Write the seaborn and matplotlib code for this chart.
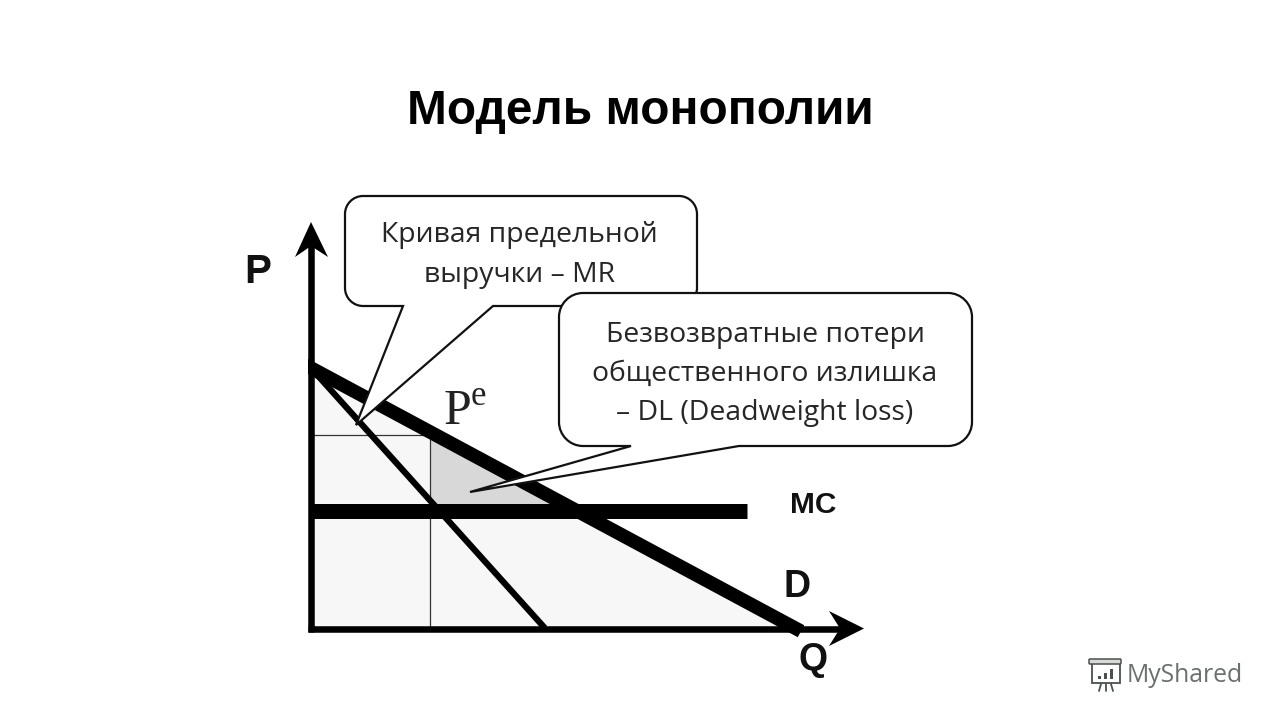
import matplotlib
matplotlib.use("Agg")
import matplotlib.pyplot as plt
import seaborn as sns
import pandas as pd
from matplotlib.path import Path
from matplotlib.patches import PathPatch, Polygon, Rectangle, FancyBboxPatch

sns.set_theme(style="white")
plt.rcParams['font.family'] = ['Liberation Sans', 'DejaVu Sans']

# ---- economic curves (relative units: demand runs 100 -> 0)
demand_q = [0, 100]
demand_p = [100, 0]
mr_q = [0, 48.3]
mr_p = [100, 0]
mc_q = [0, 90]
mc_p = [45.1, 45.1]
q_monopoly = 24.6
p_monopoly = 74.2

title_text = "Модель монополии"
callout_mr = "Кривая предельной\nвыручки – MR"
callout_dl = "Безвозвратные потери\nобщественного излишка\n– DL (Deadweight loss)"

W, H = 1280, 720
fig = plt.figure(figsize=(12.8, 7.2), dpi=100, facecolor="white")

# pixel helpers for layout only
def rect(l, t, r, b):
    return [l / W, 1 - b / H, (r - l) / W, (b - t) / H]

ax = fig.add_axes(rect(311, 368, 795, 628))
ax.set_xlim(0, 100)
ax.set_ylim(0, 100)
ax.axis("off")

# shaded regions
ax.fill_between(demand_q, demand_p, 0, color="#f7f7f7", lw=0, zorder=1)
dl_q = [q_monopoly, 100 - mc_p[0]]
ax.fill_between(dl_q, [100 - q_monopoly, mc_p[0]], mc_p[0], color="#d8d8d8", lw=0, zorder=2)

# thin guide lines
ax.plot([0, q_monopoly], [p_monopoly, p_monopoly], color="#333333", lw=0.9, zorder=3, clip_on=False)
ax.plot([q_monopoly, q_monopoly], [0, 100 - q_monopoly], color="#333333", lw=0.9, zorder=3, clip_on=False)

def curve(q, p, lw, z, cap="butt"):
    df = pd.DataFrame({"Q": q, "P": p})
    sns.lineplot(data=df, x="Q", y="P", ax=ax, color="black", lw=lw, zorder=z,
                 solid_capstyle=cap, clip_on=False, legend=False, errorbar=None)

curve(mr_q, mr_p, 4.5, 4)
curve(demand_q, demand_p, 9.8, 5, cap="projecting")
curve(mc_q, mc_p, 10.8, 6)
ax.set_xlabel("")
ax.set_ylabel("")

# overlay in pixel coordinates for annotation shapes
ov = fig.add_axes([0, 0, 1, 1], facecolor="none")
ov.set_xlim(0, W)
ov.set_ylim(H, 0)
ov.axis("off")

# white patch hides the projecting cap of the demand line left of the P axis
ov.add_patch(Rectangle((296, 350), 12, 40, fc="white", ec="none", zorder=6))

# axes with arrow heads
ov.plot([311, 311], [632, 240], color="black", lw=4.7, solid_capstyle="butt", zorder=7)
ov.plot([308, 845], [628.5, 628.5], color="black", lw=4.7, solid_capstyle="butt", zorder=7)
ov.add_patch(Polygon([(311, 222), (328, 257), (311, 246), (295, 257)], closed=True, fc="black", ec="none", zorder=8))
ov.add_patch(Polygon([(864, 628.5), (829, 611), (840, 628.5), (829, 646)], closed=True, fc="black", ec="none", zorder=8))

def callout(l, t, r, b, rad, tail_a, tip, tail_b, z):
    k = 0.45
    v = [
        (l + rad, t), (r - rad, t),
        (r - rad * k, t), (r, t + rad * k), (r, t + rad),
        (r, b - rad),
        (r, b - rad * k), (r - rad * k, b), (r - rad, b),
        (tail_b, b), tip, (tail_a, b),
        (l + rad, b),
        (l + rad * k, b), (l, b - rad * k), (l, b - rad),
        (l, t + rad),
        (l, t + rad * k), (l + rad * k, t), (l + rad, t),
        (l + rad, t),
    ]
    c = [Path.MOVETO, Path.LINETO,
         Path.CURVE4, Path.CURVE4, Path.CURVE4,
         Path.LINETO,
         Path.CURVE4, Path.CURVE4, Path.CURVE4,
         Path.LINETO, Path.LINETO, Path.LINETO,
         Path.LINETO,
         Path.CURVE4, Path.CURVE4, Path.CURVE4,
         Path.LINETO,
         Path.CURVE4, Path.CURVE4, Path.CURVE4,
         Path.CLOSEPOLY]
    ov.add_patch(PathPatch(Path(v, c), fc="white", ec="#111111", lw=1.6, zorder=z, joinstyle="miter"))

callout(345, 196, 697, 306, 18, 403, (356, 425), 493, 9)
callout(559, 293, 972, 446, 24, 631, (470, 492), 739, 10)

ov.text(519, 255, callout_mr, family="Open Sans", fontsize=20.4, color="#262626",
        ha="center", va="center", linespacing=1.53, zorder=11)
ov.text(765, 374, callout_dl, family="Open Sans", fontsize=20.4, color="#262626",
        ha="center", va="center", linespacing=1.52, zorder=11)

ov.text(640, 111, title_text, fontsize=34.4, fontweight="bold", color="black", ha="center", va="center", zorder=12)
ov.text(258, 272, "P", fontsize=29, fontweight="bold", color="#111111", ha="center", va="center", zorder=12)
ov.text(813, 505, "MC", fontsize=21.5, fontweight="bold", color="#111111", ha="center", va="center", zorder=12)
ov.text(797, 587, "D", fontsize=27, fontweight="bold", color="#111111", ha="center", va="center", zorder=12)
ov.text(813, 660, "Q", fontsize=27, fontweight="bold", color="#111111", ha="center", va="center", zorder=12)
ov.text(444, 424, "P", family="Liberation Serif", fontsize=36, color="#222222", ha="left", va="baseline", zorder=12)
ov.text(471, 405, "e", family="Liberation Serif", fontsize=25, color="#222222", ha="left", va="baseline", zorder=12)

# watermark
ov.text(1127, 675, "MyShared", family="Open Sans", fontsize=17.8, color="#6a706c", ha="left", va="center", zorder=12)
ico = "#4a504c"
ov.add_patch(Rectangle((1092, 663), 28, 20, fc="white", ec=ico, lw=1.3, zorder=12))
ov.add_patch(FancyBboxPatch((1090, 660), 30, 3, boxstyle="round,pad=1", fc="#d8dad8", ec=ico, lw=1.1, zorder=13))
for bx, bh in zip([1098, 1104, 1110], [3, 6, 10]):
    ov.add_patch(Rectangle((bx, 679 - bh), 3, bh, fc=ico, ec="none", zorder=13))
for x0, x1 in [(1101, 1099), (1106, 1106), (1111, 1113)]:
    ov.plot([x0, x1], [684, 691], color=ico, lw=1.3, zorder=12)

fig.savefig("out.png", dpi=100, facecolor="white")
